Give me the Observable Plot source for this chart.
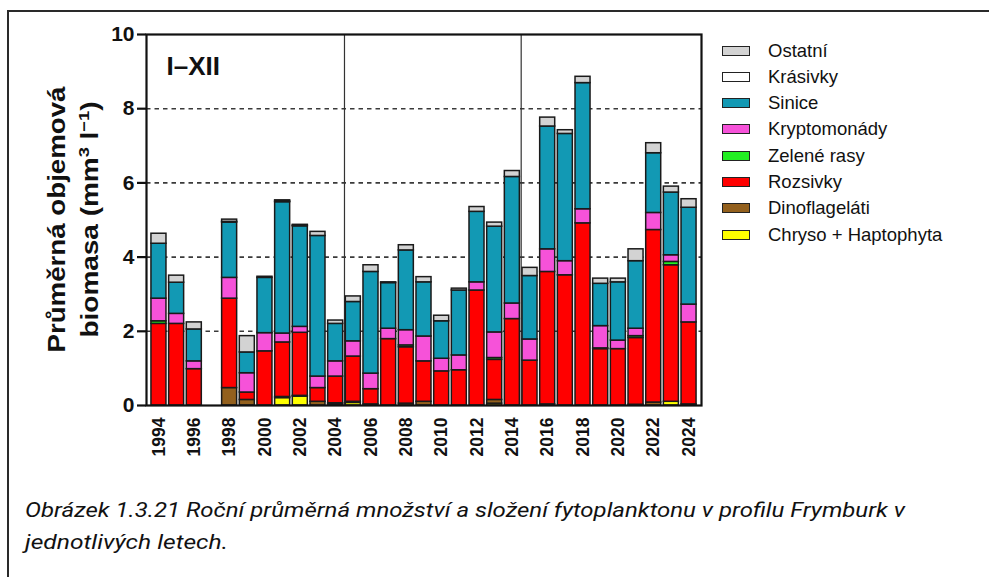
<!DOCTYPE html>
<html>
<head>
<meta charset="utf-8">
<script src="https://cdn.jsdelivr.net/npm/d3@7"></script>
<script src="https://cdn.jsdelivr.net/npm/@observablehq/plot@0.6"></script>
<style>
  html, body { margin: 0; padding: 0; background: #fff; }
  #wrap { position: relative; width: 989px; height: 577px; overflow: hidden; font-family: "Liberation Sans", Arial, sans-serif; }
  #border { position: absolute; left: 7px; top: 10px; width: 990px; height: 580px; border-top: 2px solid #2a2a2a; border-left: 2px solid #2a2a2a; }
  #plot { position: absolute; left: 0; top: 0; }
  .sw { position: absolute; left: 722px; width: 28px; height: 10px; box-sizing: border-box; border: 1.5px solid #222; }
  .lt { position: absolute; left: 768px; font-size: 18.5px; line-height: 20px; color: #111; white-space: nowrap; }
  svg.ov { position: absolute; left: 0; top: 0; }
</style>
</head>
<body>
<div id="wrap">
  <div id="border"></div>
  <div id="plot"></div>
  <div id="legend"></div>
  <svg class="ov" width="140" height="470" id="ytitle"></svg>
  <svg class="ov" width="989" height="577" id="caption" style="pointer-events:none"></svg>
</div>
<script>
// ---- data (mm3/l) ----
const years = ["1994","1995","1996","1997","1998","1999","2000","2001","2002","2003","2004","2005","2006","2007","2008","2009","2010","2011","2012","2013","2014","2015","2016","2017","2018","2019","2020","2021","2022","2023","2024"];
const tickYears = ["1994","1996","1998","2000","2002","2004","2006","2008","2010","2012","2014","2016","2018","2020","2022","2024"];
// groups bottom -> top
const groups = ["Chryso + Haptophyta","Dinoflageláti","Rozsivky","Zelené rasy","Kryptomonády","Sinice","Krásivky","Ostatní"];
const colors = ["#ffff00","#93601d","#ff0000","#22ee22","#f652d9","#1299b4","#ffffff","#d3d3d3"];
// null = no sampling (1997)
const chryso   = [0,0,0,null,0,0,0,0.20,0.24,0,0.02,0.07,0,0,0,0,0,0,0,0.05,0,0,0,0,0,0,0,0,0,0.10,0];
const dino     = [0,0,0,null,0.47,0.15,0,0.03,0.02,0.10,0.04,0.03,0.03,0,0.05,0.10,0,0,0,0.10,0,0,0.03,0,0,0,0,0.02,0.08,0,0.03];
const rozsivky = [2.20,2.20,0.98,null,2.41,0.20,1.46,1.47,1.70,0.37,0.72,1.22,0.41,1.79,1.52,1.09,0.92,0.95,3.10,1.08,2.33,1.21,3.57,3.51,4.91,1.52,1.52,1.80,4.65,3.68,2.21];
const zelene   = [0.07,0,0,null,0,0,0,0,0,0,0,0,0,0,0.05,0,0,0,0,0.05,0,0,0,0,0,0.02,0,0.05,0,0.09,0];
const krypto   = [0.61,0.27,0.21,null,0.56,0.52,0.49,0.24,0.16,0.31,0.41,0.41,0.42,0.28,0.41,0.67,0.34,0.40,0.22,0.69,0.42,0.57,0.61,0.38,0.38,0.60,0.23,0.20,0.46,0.18,0.48];
const sinice   = [1.48,0.84,0.86,null,1.49,0.56,1.49,3.54,2.71,3.79,1.01,1.06,2.74,1.23,2.15,1.46,1.01,1.75,1.90,2.85,3.41,1.71,3.31,3.43,3.40,1.14,1.57,1.82,1.61,1.69,2.61];
const krasivky = [0,0,0,null,0.02,0,0,0.02,0.02,0,0,0,0,0,0,0,0,0,0,0,0,0,0,0,0,0,0,0,0,0,0];
const ostatni  = [0.27,0.19,0.19,null,0.06,0.44,0.03,0.03,0.02,0.11,0.09,0.15,0.18,0.02,0.14,0.14,0.15,0.05,0.13,0.11,0.16,0.22,0.24,0.10,0.17,0.14,0.10,0.32,0.27,0.16,0.23];
const yTicks = [0,2,4,6,8,10];
const gridValues = [2,4,6,8];
const separatorsAfter = ["2004","2014"];
const panelLabel = "I–XII";

const series = [chryso, dino, rozsivky, zelene, krypto, sinice, krasivky, ostatni];
const data = [];
years.forEach((yr, i) => {
  series.forEach((s, g) => {
    const v = s[i];
    if (v != null && v > 0) data.push({year: yr, group: groups[g], value: v});
  });
});

// layout
const W = 989, H = 470;
const mL = 146, mR = 288, mT = 34, mB = 65;
const pIn = 0.15, pOut = 0.28;
const step = (W - mL - mR) / (years.length - pIn + 2 * pOut);

const chart = Plot.plot({
  width: W, height: H,
  marginLeft: mL, marginRight: mR, marginTop: mT, marginBottom: mB,
  style: {fontFamily: "'Liberation Sans', Arial, sans-serif", fontWeight: "bold", color: "#111", background: "transparent"},
  x: {type: "band", domain: years, paddingInner: pIn, paddingOuter: pOut, round: false},
  y: {domain: [0, 10]},
  color: {domain: groups, range: colors},
  marks: [
    Plot.ruleY(gridValues, {stroke: "#3a3a3a", strokeWidth: 1.6, strokeDasharray: "4.5,4"}),
    Plot.ruleX(separatorsAfter, {x: d => d, dx: step / 2, stroke: "#333", strokeWidth: 1.2}),
    Plot.barY(data, {x: "year", y: "value", fill: "group", z: "group", order: groups, stroke: "#1a1a1a", strokeWidth: 1.5}),
    Plot.frame({stroke: "#111", strokeWidth: 2.2}),
    Plot.axisY({ticks: yTicks, tickSize: 9, tickPadding: 3, fontSize: 21, fontWeight: "bold", strokeWidth: 2.2, label: null, tickFormat: d => String(d)}),
    Plot.axisX({ticks: tickYears, tickRotate: -90, tickSize: 0, tickPadding: 12, fontSize: 17.5, fontWeight: "bold", label: null}),
    Plot.text([panelLabel], {frameAnchor: "top-left", dx: 20, dy: 22, textAnchor: "start", lineAnchor: "top", fontSize: 26, fontWeight: "bold", fill: "#111"})
  ]
});
document.getElementById("plot").appendChild(chart);

// legend (top -> bottom)
const legend = document.getElementById("legend");
const legendOrder = groups.map((g, i) => ({g, c: colors[i]})).reverse();
legendOrder.forEach((d, i) => {
  const cy = 50.5 + i * 26.3;
  const sw = document.createElement("div");
  sw.className = "sw"; sw.style.top = (cy - 5) + "px"; sw.style.background = d.c;
  const t = document.createElement("div");
  t.className = "lt"; t.style.top = (cy - 10) + "px"; t.textContent = d.g;
  legend.appendChild(sw); legend.appendChild(t);
});

// y title
const ns = "http://www.w3.org/2000/svg";
const yt = document.getElementById("ytitle");
const cy = (mT + (H - mB)) / 2;
function rot(x, content, len) {
  const t = document.createElementNS(ns, "text");
  t.setAttribute("transform", `translate(${x},${cy}) rotate(-90)`);
  t.setAttribute("text-anchor", "middle");
  t.setAttribute("font-family", "'Liberation Sans', Arial, sans-serif");
  t.setAttribute("font-weight", "bold");
  t.setAttribute("font-size", "23");
  t.setAttribute("fill", "#111");
  t.setAttribute("textLength", len);
  t.setAttribute("lengthAdjust", "spacingAndGlyphs");
  t.innerHTML = content;
  yt.appendChild(t);
}
rot(65, "Průměrná objemová", 266);
rot(98, 'biomasa (mm<tspan dy="-9" font-size="15">3</tspan><tspan dy="9"> l</tspan><tspan dy="-9" font-size="15">−1</tspan><tspan dy="9">)</tspan>', 236);

// caption
const cap = document.getElementById("caption");
function capLine(y, str, len) {
  const t = document.createElementNS(ns, "text");
  t.setAttribute("x", 25); t.setAttribute("y", y);
  t.setAttribute("font-family", "Roboto, 'Liberation Sans', sans-serif");
  t.setAttribute("font-style", "italic");
  t.setAttribute("font-size", "21");
  t.setAttribute("fill", "#111");
  t.setAttribute("textLength", len);
  t.setAttribute("lengthAdjust", "spacingAndGlyphs");
  t.textContent = str;
  cap.appendChild(t);
}
capLine(517, "Obrázek 1.3.21 Roční průměrná množství a složení fytoplanktonu v profilu Frymburk v", 880);
capLine(549, "jednotlivých letech.", 203);
</script>
</body>
</html>
